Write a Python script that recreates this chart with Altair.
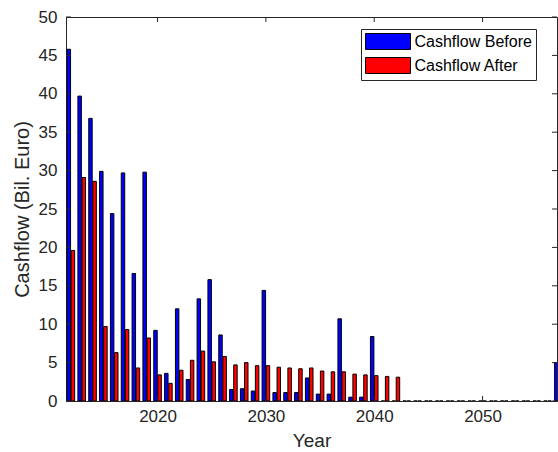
import altair as alt
import pandas as pd

years = list(range(2012, 2058))
cashflow_before = [45.8, 39.7, 36.8, 29.9, 24.4, 29.7, 16.6, 29.8, 9.2, 3.6,
                   12.0, 2.8, 13.3, 15.8, 8.6, 1.5, 1.6, 1.3, 14.4, 1.1,
                   1.1, 1.1, 3.0, 0.9, 0.9, 10.7, 0.5, 0.5, 8.4] + [0.0] * 16 + [5.0]
cashflow_after = [19.6, 29.1, 28.6, 9.7, 6.3, 9.3, 4.3, 8.2, 3.4, 2.3,
                  4.0, 5.3, 6.5, 5.1, 5.8, 4.7, 5.0, 4.6, 4.6, 4.4,
                  4.3, 4.2, 4.3, 3.9, 3.8, 3.8, 3.5, 3.4, 3.3, 3.2,
                  3.1] + [0.0] * 15
series_names = ["Cashflow Before", "Cashflow After"]
y_ticks = list(range(0, 51, 5))
x_ticks = [2020, 2030, 2040, 2050]

rows = []
for i, yr in enumerate(years):
    rows.append({"Year": yr, "Series": series_names[0], "Value": cashflow_before[i], "side": -1})
    rows.append({"Year": yr, "Series": series_names[1], "Value": cashflow_after[i], "side": 1})
df = pd.DataFrame(rows)

AX = "#262626"
FONT = "Liberation Sans"
x_scale = alt.Scale(domain=[2011.55, 2056.87], nice=False, zero=False)
y_scale = alt.Scale(domain=[0, 50], nice=False)

bars = alt.Chart(df).transform_calculate(
    x0="datum.Year + datum.side * 0.03",
    x1="datum.Year + datum.side * 0.35",
).mark_bar(stroke="black", strokeWidth=1, clip=True).encode(
    x=alt.X("x0:Q", scale=x_scale,
            axis=alt.Axis(title="Year", values=x_ticks, format="d", tickSize=0,
                          labelPadding=7, titlePadding=7, domainColor=AX,
                          grid=False, labelFont=FONT, titleFont=FONT,
                          labelFontSize=17, titleFontSize=19, labelColor=AX,
                          titleColor=AX, titleFontWeight="normal")),
    x2="x1:Q",
    y=alt.Y("Value:Q", scale=y_scale,
            axis=alt.Axis(title="Cashflow (Bil. Euro)", values=y_ticks, tickSize=0,
                          labelPadding=9, titlePadding=6, domainColor=AX,
                          grid=False, labelOverlap=False, labelFont=FONT,
                          titleFont=FONT, labelFontSize=17, titleFontSize=20,
                          labelColor=AX, titleColor=AX, titleFontWeight="normal")),
    y2=alt.datum(0),
    color=alt.Color("Series:N",
                    scale=alt.Scale(domain=series_names, range=["#0000ff", "#ff0000"]),
                    legend=alt.Legend(title=None, orient="none", legendX=295, legendY=12,
                                      symbolType="M-1,-1H4.625V1H-1Z", symbolSize=256,
                                      symbolStrokeColor="black", symbolStrokeWidth=1,
                                      labelFontSize=16, labelFont=FONT, labelColor="black",
                                      strokeColor=AX, fillColor="white", padding=4,
                                      rowPadding=3, labelOffset=32.5)),
)

ytick_df = pd.DataFrame({"v": y_ticks})
xtick_df = pd.DataFrame({"v": x_ticks})
left_ticks = alt.Chart(ytick_df).mark_rule(color=AX).encode(
    y=alt.Y("v:Q", scale=y_scale, axis=None), x=alt.value(0), x2=alt.value(5))
right_ticks = alt.Chart(ytick_df).mark_rule(color=AX).encode(
    y=alt.Y("v:Q", scale=y_scale, axis=None), x=alt.value(486), x2=alt.value(491))
top_ticks = alt.Chart(xtick_df).mark_rule(color=AX).encode(
    x=alt.X("v:Q", scale=x_scale, axis=None), y=alt.value(0), y2=alt.value(5))
bottom_ticks = alt.Chart(xtick_df).mark_rule(color=AX).encode(
    x=alt.X("v:Q", scale=x_scale, axis=None), y=alt.value(379), y2=alt.value(384))

chart = alt.layer(bars, left_ticks, right_ticks, top_ticks, bottom_ticks).resolve_axis(
    x="independent", y="independent"
).properties(
    width=491, height=384,
    autosize=alt.AutoSizeParams(type="none"),
    padding={"left": 66, "top": 17, "right": 1, "bottom": 51},
    background="white",
).configure_view(stroke=AX, strokeWidth=1)

chart.save("out.html", embed_options={"renderer": "svg", "actions": False})
